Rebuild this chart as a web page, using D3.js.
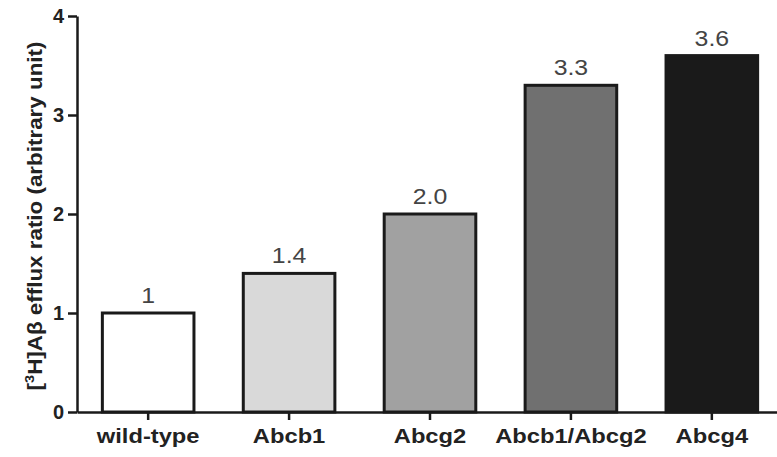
<!DOCTYPE html>
<html>
<head>
<meta charset="utf-8">
<script src="https://cdn.jsdelivr.net/npm/d3@7"></script>
<style>
  body { margin: 0; background: #fff; }
  svg { display: block; font-family: "Liberation Sans", Arial, sans-serif; }
</style>
</head>
<body>
<svg id="chart"></svg>
<script>
// data
const categories = ["wild-type", "Abcb1", "Abcg2", "Abcb1/Abcg2", "Abcg4"];
const values = [1, 1.4, 2.0, 3.3, 3.6];
const valueLabels = ["1", "1.4", "2.0", "3.3", "3.6"];
const fills = ["#ffffff", "#d9d9d9", "#a1a1a1", "#707070", "#1a1a1a"];
const yTicks = [0, 1, 2, 3, 4];

const width = 777, height = 457;
const margin = { top: 16, left: 77, bottom: 45 };

const svg = d3.select("#chart")
  .attr("width", width)
  .attr("height", height);

// scales
const x = d3.scaleBand()
  .domain(categories)
  .range([margin.left, width + 6])
  .paddingInner(0.35)
  .paddingOuter(0.18);

const y = d3.scaleLinear()
  .domain([0, 4])
  .range([height - margin.bottom, margin.top]);

// bars
svg.append("g")
  .selectAll("rect")
  .data(values)
  .join("rect")
  .attr("x", (d, i) => x(categories[i]))
  .attr("y", d => y(d))
  .attr("width", x.bandwidth())
  .attr("height", d => y(0) - y(d))
  .attr("fill", (d, i) => fills[i])
  .attr("stroke", "#1a1a1a")
  .attr("stroke-width", 3);

// value labels above bars
svg.append("g")
  .selectAll("text")
  .data(values)
  .join("text")
  .attr("transform", (d, i) =>
    `translate(${x(categories[i]) + x.bandwidth() / 2},${y(d) - 10}) scale(1.13,1)`)
  .attr("text-anchor", "middle")
  .attr("font-size", 22)
  .attr("fill", "#444")
  .text((d, i) => valueLabels[i]);

// y axis
const yAxis = svg.append("g")
  .attr("transform", `translate(${margin.left},0)`)
  .call(d3.axisLeft(y).tickValues(yTicks).tickFormat(d3.format("d"))
    .tickSize(9).tickSizeOuter(0).tickPadding(4));
yAxis.select(".domain").attr("stroke", "#1a1a1a").attr("stroke-width", 2.5);
yAxis.selectAll(".tick line").attr("stroke", "#1a1a1a").attr("stroke-width", 2.5);
yAxis.selectAll(".tick text")
  .attr("font-size", 20)
  .attr("font-weight", "bold")
  .attr("fill", "#222")
  .attr("font-family", "Liberation Sans, Arial, sans-serif");

// x axis
const xAxis = svg.append("g")
  .attr("transform", `translate(0,${y(0)})`)
  .call(d3.axisBottom(x).tickSize(8).tickSizeOuter(0));
xAxis.select(".domain").attr("stroke", "#1a1a1a").attr("stroke-width", 2.5);
xAxis.selectAll(".tick line").attr("stroke", "#1a1a1a").attr("stroke-width", 2.5);
xAxis.selectAll(".tick text")
  .attr("y", 31)
  .attr("dy", 0)
  .attr("transform", "scale(1.13,1)")
  .attr("font-size", 21)
  .attr("font-weight", "bold")
  .attr("fill", "#222")
  .attr("font-family", "Liberation Sans, Arial, sans-serif");

// y axis title
const title = svg.append("text")
  .attr("transform", "translate(42,216) rotate(-90) scale(1.12,1)")
  .attr("text-anchor", "middle")
  .attr("font-size", 20)
  .attr("font-weight", "bold")
  .attr("fill", "#222");
title.append("tspan").text("[");
title.append("tspan").attr("font-size", 13).attr("dy", -8).text("3");
title.append("tspan").attr("dy", 8).text("H]A\u03b2 efflux ratio (arbitrary unit)");
</script>
</body>
</html>
